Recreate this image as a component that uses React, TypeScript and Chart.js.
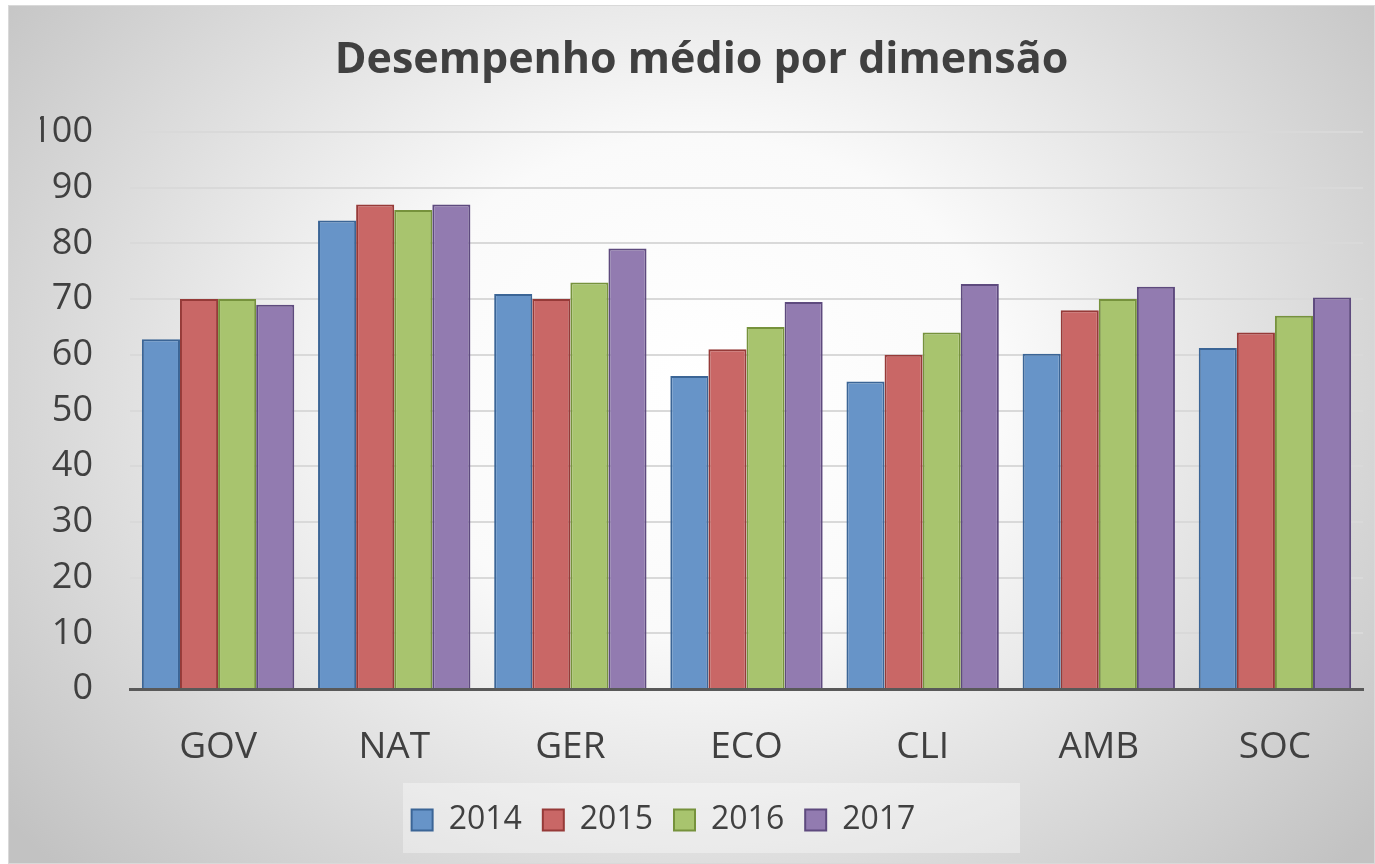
import React, { useEffect, useRef } from "react";
import { Chart, registerables } from "chart.js";

Chart.register(...registerables);

const categories = ["GOV", "NAT", "GER", "ECO", "CLI", "AMB", "SOC"];
const seriesNames = ["2014", "2015", "2016", "2017"];
const values2014 = [62.8, 84.1, 70.9, 56.2, 55.2, 60.2, 61.2];
const values2015 = [70.0, 87.0, 70.0, 61.0, 60.0, 68.0, 64.0];
const values2016 = [70.0, 86.0, 73.0, 65.0, 64.0, 70.0, 67.0];
const values2017 = [69.0, 87.0, 79.1, 69.5, 72.7, 72.2, 70.3];
const yTicks = [0, 10, 20, 30, 40, 50, 60, 70, 80, 90, 100];

const fills = ["#6794C8", "#C96766", "#A8C46E", "#927BB0"];
const borders = ["#3B6596", "#963A38", "#76923C", "#5E4A7E"];

const W = 1367;
const H = 859;

const bgPlugin = {
  id: "bg",
  beforeDraw(chart: any) {
    const ctx = chart.ctx;
    ctx.save();
    ctx.translate(690, 380);
    ctx.scale(1, 0.8);
    const g = ctx.createRadialGradient(0, 0, 0, 0, 0, 880);
    g.addColorStop(0, "#ffffff");
    g.addColorStop(0.35, "#fafafa");
    g.addColorStop(1, "#c2c2c2");
    ctx.fillStyle = g;
    ctx.fillRect(-800, -600, 1700, 1300);
    ctx.restore();
    ctx.save();
    ctx.strokeStyle = "#d9d9d9";
    ctx.lineWidth = 1;
    ctx.strokeRect(0.5, 0.5, W - 1, H - 1);
    // legend background
    ctx.fillStyle = "rgba(255,255,255,0.35)";
    ctx.fillRect(395, 778, 617, 70);
    ctx.restore();
    // shift legend a little to the left, as in the reference
    const lg = chart.legend;
    if (lg && !lg._shifted) {
      lg.right -= 76;
      lg._shifted = true;
    }
  },
};

export default function App() {
  const ref = useRef<HTMLCanvasElement>(null);
  useEffect(() => {
    if (!ref.current) return;
    const all = [values2014, values2015, values2016, values2017];
    const chart = new Chart(ref.current, {
      type: "bar",
      data: {
        labels: categories,
        datasets: seriesNames.map((n, i) => ({
          label: n,
          data: all[i],
          backgroundColor: fills[i],
          borderColor: borders[i],
          borderWidth: 2,
          categoryPercentage: 0.865,
          barPercentage: 1.0,
        })),
      },
      options: {
        responsive: false,
        animation: false,
        devicePixelRatio: 1,
        layout: { padding: { left: 32, right: 12, top: 0, bottom: 18 } },
        plugins: {
          title: {
            display: true,
            text: "Desempenho médio por dimensão",
            color: "#404040",
            font: { family: "'Open Sans'", size: 43, weight: "bold" },
            padding: { top: 30, bottom: 45.4 },
          },
          legend: {
            position: "bottom",
            labels: {
              color: "#404040",
              font: { family: "'Open Sans'", size: 32 },
              boxWidth: 21,
              boxHeight: 21,
              padding: 21,
            },
          },
          tooltip: { enabled: false },
        },
        scales: {
          x: {
            grid: { display: false, drawTicks: false },
            border: { display: true, color: "#595959", width: 3 },
            ticks: {
              color: "#404040",
              font: { family: "'Open Sans'", size: 37 },
              padding: 36,
            },
            afterFit: (s: any) => {
              s.height = 94;
            },
          },
          y: {
            min: 0,
            max: 100,
            afterBuildTicks: (s: any) => {
              s.ticks = yTicks.map((v) => ({ value: v }));
            },
            grid: { color: "#d9d9d9", lineWidth: 2, drawTicks: false },
            border: { display: false },
            ticks: {
              color: "#404040",
              font: { family: "'Open Sans'", size: 36 },
              padding: 37,
            },
            afterFit: (s: any) => {
              s.width = 90;
            },
          },
        },
      },
      plugins: [bgPlugin],
    });
    return () => chart.destroy();
  }, []);
  return (
    <div style={{ position: "absolute", left: 8, top: 5, width: W, height: H }}>
      <canvas ref={ref} width={W} height={H} style={{ width: W, height: H, display: "block" }} />
    </div>
  );
}
